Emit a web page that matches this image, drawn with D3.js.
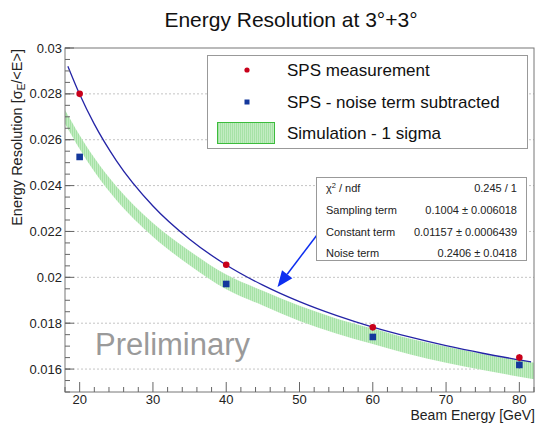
<!DOCTYPE html>
<html>
<head>
<meta charset="utf-8">
<script src="https://cdn.jsdelivr.net/npm/d3@7"></script>
<style>
  body { margin: 0; background: #fff; }
  svg { display: block; font-family: "Liberation Sans", Arial, Helvetica, sans-serif; }
</style>
</head>
<body>
<main></main>
<script>
// data
let beamEnergy = [20, 40, 60, 80];
let spsMeasured = [0.0280, 0.02055, 0.01782, 0.0165];
let spsNoiseSubtracted = [0.02525, 0.01971, 0.0174, 0.01618];
let pointError = [0.00012, 0.00012, 0.00012, 0.00015];

// fitted curve (blue line)
let fitEnergy = [18.4, 20, 22, 25, 30, 35, 40, 45, 50, 55, 60, 65, 70, 75, 80, 81.6];
let fitValue = [0.02920, 0.02798, 0.02668, 0.02509, 0.02311, 0.02166, 0.02054, 0.01966, 0.01894, 0.01834, 0.01783, 0.01740, 0.01702, 0.01669, 0.01640, 0.01631];

// simulation band (green, 1 sigma)
let simEnergy = [18, 20, 22, 25, 30, 35, 40, 45, 50, 55, 60, 65, 70, 75, 80, 82];
let simValue = [0.0270, 0.0259, 0.02491, 0.02367, 0.02207, 0.02084, 0.0198, 0.01909, 0.01843, 0.01788, 0.01743, 0.01699, 0.01663, 0.01631, 0.01603, 0.01592];
let simSigma = [0.0003, 0.0003, 0.0003, 0.0003, 0.0003, 0.00031, 0.00032, 0.00032, 0.00033, 0.00033, 0.00034, 0.00034, 0.00035, 0.00035, 0.00036, 0.00036];

let xMajorTicks = [20, 30, 40, 50, 60, 70, 80];
let yMajorTicks = [0.016, 0.018, 0.02, 0.022, 0.024, 0.026, 0.028, 0.03];
let yTickLabels = ["0.016", "0.018", "0.02", "0.022", "0.024", "0.026", "0.028", "0.03"];

let statNames = ["Sampling term", "Constant term", "Noise term"];
let statValues = ["0.1004 \u00b1 0.006018", "0.01157 \u00b1 0.0006439", "0.2406 \u00b1 0.0418"];

let width = 538, height = 423;
let padL = 65, padR = 534, padT = 48, padB = 392;

let svg = d3.select('main')
    .append('svg')
    .attr('width', width)
    .attr('height', height);

let x = d3.scaleLinear().domain([18, 82]).range([padL, padR]);
let y = d3.scaleLinear().domain([0.015, 0.03]).range([padB, padT]);

let defs = svg.append('defs');
defs.append('clipPath').attr('id', 'plotclip')
    .append('rect')
    .attr('x', padL).attr('y', padT)
    .attr('width', padR - padL).attr('height', padB - padT);

let pat = defs.append('pattern')
    .attr('id', 'simfill')
    .attr('patternUnits', 'userSpaceOnUse')
    .attr('width', 2).attr('height', 2);
pat.append('rect').attr('width', 2).attr('height', 2).attr('fill', '#c2ecc2');
pat.append('rect').attr('width', 1).attr('height', 2).attr('fill', '#a6e2a6');

// title
svg.append('text')
    .attr('x', 291).attr('y', 27)
    .attr('text-anchor', 'middle')
    .attr('font-size', 21)
    .attr('fill', '#111')
    .text('Energy Resolution at 3\u00b0+3\u00b0');

// grid
svg.append('g')
    .selectAll('line')
    .data(yMajorTicks.slice(0, -1))
    .join('line')
    .attr('x1', padL).attr('x2', padR)
    .attr('y1', d => y(d)).attr('y2', d => y(d))
    .attr('stroke', '#c4c4c4')
    .attr('stroke-width', 1)
    .attr('stroke-dasharray', '2,2');

let plot = svg.append('g').attr('clip-path', 'url(#plotclip)');

// simulation band
let band = d3.area()
    .x((d, i) => x(simEnergy[i]))
    .y0((d, i) => y(simValue[i] - simSigma[i]))
    .y1((d, i) => y(simValue[i] + simSigma[i]))
    .curve(d3.curveMonotoneX);

plot.append('path')
    .datum(simEnergy)
    .attr('d', band)
    .attr('fill', 'url(#simfill)');

// fit curve
let fitLine = d3.line()
    .x((d, i) => x(fitEnergy[i]))
    .y((d, i) => y(fitValue[i]))
    .curve(d3.curveMonotoneX);

plot.append('path')
    .datum(fitEnergy)
    .attr('d', fitLine)
    .attr('fill', 'none')
    .attr('stroke', '#2424a6')
    .attr('stroke-width', 1.3);

// error bars
plot.selectAll('.errRed')
    .data(beamEnergy)
    .join('line')
    .attr('x1', d => x(d)).attr('x2', d => x(d))
    .attr('y1', (d, i) => y(spsMeasured[i] - pointError[i]))
    .attr('y2', (d, i) => y(spsMeasured[i] + pointError[i]))
    .attr('stroke', '#c00010');

plot.selectAll('.errBlue')
    .data(beamEnergy)
    .join('line')
    .attr('x1', d => x(d)).attr('x2', d => x(d))
    .attr('y1', (d, i) => y(spsNoiseSubtracted[i] - pointError[i]))
    .attr('y2', (d, i) => y(spsNoiseSubtracted[i] + pointError[i]))
    .attr('stroke', '#1a3a9c');

// markers
plot.selectAll('.red')
    .data(beamEnergy)
    .join('circle')
    .attr('cx', d => x(d))
    .attr('cy', (d, i) => y(spsMeasured[i]))
    .attr('r', 3.3)
    .attr('fill', '#c8001a');

plot.selectAll('.blue')
    .data(beamEnergy)
    .join('rect')
    .attr('x', d => x(d) - 3.3)
    .attr('y', (d, i) => y(spsNoiseSubtracted[i]) - 3.3)
    .attr('width', 6.6)
    .attr('height', 6.6)
    .attr('fill', '#14389c');

// axes frame
svg.append('rect')
    .attr('x', padL).attr('y', padT)
    .attr('width', padR - padL).attr('height', padB - padT)
    .attr('fill', 'none')
    .attr('stroke', '#777')
    .attr('stroke-width', 1);

// x ticks
let xMinor = d3.range(18, 82.01, 2).filter(d => d % 10 != 0);
svg.append('g').selectAll('line')
    .data(xMinor)
    .join('line')
    .attr('x1', d => x(d)).attr('x2', d => x(d))
    .attr('y1', padB).attr('y2', padB - 5)
    .attr('stroke', '#666');
svg.append('g').selectAll('line')
    .data(xMajorTicks)
    .join('line')
    .attr('x1', d => x(d)).attr('x2', d => x(d))
    .attr('y1', padB).attr('y2', padB - 10)
    .attr('stroke', '#666');
svg.append('g').selectAll('text')
    .data(xMajorTicks)
    .join('text')
    .attr('x', d => x(d)).attr('y', 404)
    .attr('text-anchor', 'middle')
    .attr('font-size', 13)
    .attr('fill', '#222')
    .text(d => d);

// y ticks
let yMinor = d3.range(0, 31).map(i => 0.015 + i * 0.0005);
svg.append('g').selectAll('line')
    .data(yMinor)
    .join('line')
    .attr('x1', padL).attr('x2', padL + 5)
    .attr('y1', d => y(d)).attr('y2', d => y(d))
    .attr('stroke', '#666');
svg.append('g').selectAll('line')
    .data(yMajorTicks)
    .join('line')
    .attr('x1', padL).attr('x2', padL + 9)
    .attr('y1', d => y(d)).attr('y2', d => y(d))
    .attr('stroke', '#666');
svg.append('g').selectAll('text')
    .data(yMajorTicks)
    .join('text')
    .attr('x', 62).attr('y', d => y(d) + 4.5)
    .attr('text-anchor', 'end')
    .attr('font-size', 13)
    .attr('fill', '#222')
    .text((d, i) => yTickLabels[i]);

// axis titles
svg.append('text')
    .attr('x', padR + 1).attr('y', 420)
    .attr('text-anchor', 'end')
    .attr('font-size', 14)
    .attr('fill', '#222')
    .text('Beam Energy [GeV]');

let ylab = svg.append('text')
    .attr('transform', 'translate(22,49) rotate(-90)')
    .attr('text-anchor', 'end')
    .attr('font-size', 14.5)
    .attr('fill', '#222');
ylab.append('tspan').text('Energy Resolution [\u03c3');
ylab.append('tspan').attr('font-size', 10).attr('dy', 3).text('E');
ylab.append('tspan').attr('dy', -3).text('/<E>]');

// arrow
let tail = [x(52.7), y(0.02198)];
let tip = [x(47.0), y(0.01958)];
let ang = Math.atan2(tip[1] - tail[1], tip[0] - tail[0]);
let headLen = 16, headW = 6.5;
let bx = tip[0] - headLen * Math.cos(ang), by = tip[1] - headLen * Math.sin(ang);
svg.append('line')
    .attr('x1', tail[0]).attr('y1', tail[1])
    .attr('x2', bx).attr('y2', by)
    .attr('stroke', '#0d2ef0')
    .attr('stroke-width', 1.5);
svg.append('polygon')
    .attr('points', [
        tip,
        [bx + headW * Math.sin(ang), by - headW * Math.cos(ang)],
        [bx - headW * Math.sin(ang), by + headW * Math.cos(ang)]
    ].map(p => p.join(',')).join(' '))
    .attr('fill', '#0d2ef0');

// stats box
svg.append('rect')
    .attr('x', 316.5).attr('y', 177.5)
    .attr('width', 210).attr('height', 83)
    .attr('fill', '#fff')
    .attr('stroke', '#999');

let chi = svg.append('text')
    .attr('x', 326).attr('y', 192)
    .attr('font-size', 11)
    .attr('fill', '#222');
chi.append('tspan').text('\u03c7');
chi.append('tspan').attr('font-size', 7.5).attr('dy', -4).text('2');
chi.append('tspan').attr('dy', 4).text(' / ndf');
svg.append('text')
    .attr('x', 517).attr('y', 192)
    .attr('text-anchor', 'end')
    .attr('font-size', 11)
    .attr('fill', '#222')
    .text('0.245 / 1');

svg.append('g').selectAll('text')
    .data(statNames)
    .join('text')
    .attr('x', 326).attr('y', (d, i) => 214 + i * 21.5)
    .attr('font-size', 11)
    .attr('fill', '#222')
    .text(d => d);
svg.append('g').selectAll('text')
    .data(statValues)
    .join('text')
    .attr('x', 517).attr('y', (d, i) => 214 + i * 21.5)
    .attr('text-anchor', 'end')
    .attr('font-size', 11)
    .attr('fill', '#222')
    .text(d => d);

// legend
svg.append('rect')
    .attr('x', 207.5).attr('y', 55.5)
    .attr('width', 320).attr('height', 93)
    .attr('fill', '#fff')
    .attr('stroke', '#999');

svg.append('circle')
    .attr('cx', 247).attr('cy', 70).attr('r', 2.6)
    .attr('fill', '#c8001a');
svg.append('rect')
    .attr('x', 244.5).attr('y', 99.5).attr('width', 5).attr('height', 5)
    .attr('fill', '#14389c');
svg.append('rect')
    .attr('x', 217.5).attr('y', 122.5).attr('width', 57).attr('height', 21)
    .attr('fill', 'url(#simfill)')
    .attr('stroke', '#3cbc3c');

let legendLabels = ['SPS measurement', 'SPS - noise term subtracted', 'Simulation - 1 sigma'];
svg.append('g').selectAll('text')
    .data(legendLabels)
    .join('text')
    .attr('x', 287).attr('y', (d, i) => 76 + i * 31.5)
    .attr('font-size', 17)
    .attr('fill', '#111')
    .text(d => d);

// preliminary
svg.append('text')
    .attr('x', 95).attr('y', 355)
    .attr('font-size', 31)
    .attr('fill', '#9a9a9a')
    .text('Preliminary');
</script>
</body>
</html>
